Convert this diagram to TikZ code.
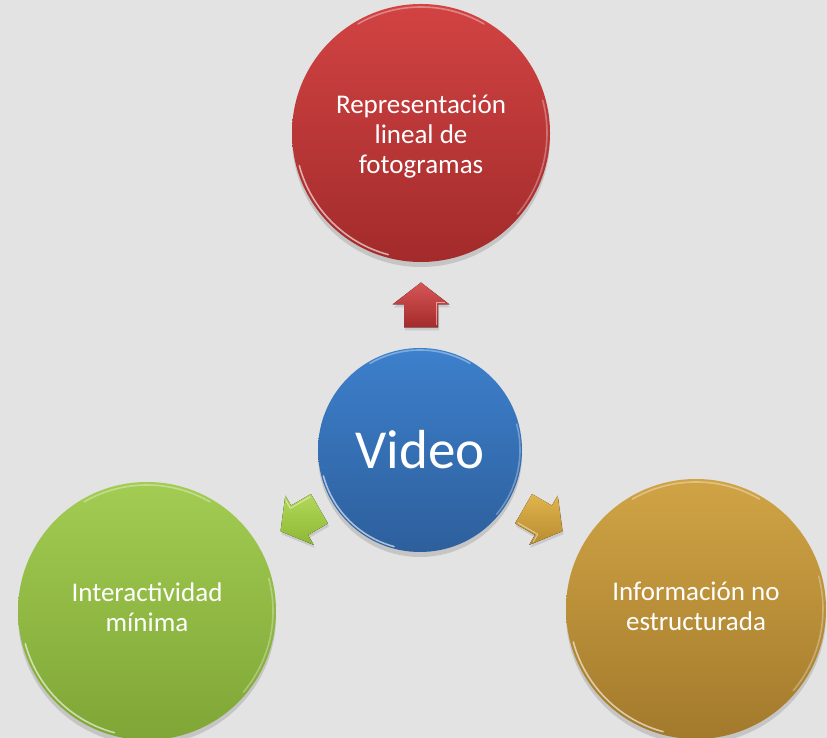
\documentclass[tikz,border=0pt]{standalone}
\usepackage{fontspec}
\setmainfont{Carlito}
\usetikzlibrary{shadows}
\definecolor{bg}{HTML}{E3E3E3}
\definecolor{redT}{HTML}{D24343}
\definecolor{redB}{HTML}{A32B2B}
\definecolor{bluT}{HTML}{3D80CC}
\definecolor{bluB}{HTML}{2D5F9C}
\definecolor{grnT}{HTML}{A2CC52}
\definecolor{grnB}{HTML}{7FA636}
\definecolor{gldT}{HTML}{D0A445}
\definecolor{gldB}{HTML}{A37A2C}
\definecolor{agrnT}{HTML}{B2D85A}
\definecolor{agrnB}{HTML}{8DB833}
\definecolor{agldT}{HTML}{E0B44E}
\definecolor{agldB}{HTML}{B88B2E}
\newcommand\blockarr[4]{%
  \coordinate (#1) at #2;
  \fill[shift={(#1)}, rotate=#3, #4,
    drop shadow={opacity=0.25, shadow xshift=1pt, shadow yshift=-3pt}]
    (-22.5,-17) -- (0.5,-17) -- (0.5,-28.5) -- (22.5,0) -- (0.5,28.5)
    -- (0.5,17) -- (-22.5,17) -- cycle;
  \draw[shift={(#1)}, rotate=#3, white, opacity=0.5, line width=1pt, line join=round]
    (-20.5,-15) -- (2.5,-15) -- (2.5,-24);
}
\begin{document}
\begin{tikzpicture}[x=1pt,y=1pt,
  bubble/.style={circle, draw=none, inner sep=0pt,
    drop shadow={opacity=0.3, shadow xshift=0pt, shadow yshift=-5pt}},
  bubbletext/.style={text=white, align=center, inner sep=0pt,
    font=\fontsize{27}{30}\selectfont},
  rim/.style={white, opacity=0.6, line width=1.6pt, line cap=round}]
\fill[bg] (0,0) rectangle (827,738);
\useasboundingbox (0,0) rectangle (827,738);

% circles
\node[bubble, minimum size=258pt, top color=redT, bottom color=redB] (rep) at (421,605) {};
\node[bubble, minimum size=258pt, top color=grnT, bottom color=grnB] (inter) at (147,127) {};
\node[bubble, minimum size=260pt, top color=gldT, bottom color=gldB] (info) at (696,129) {};
\node[bubble, minimum size=204pt, top color=bluT, bottom color=bluB] (video) at (420,288) {};

% texts
\node[bubbletext] (reptext) at ([yshift=-4pt]rep.center) {Representación\\lineal de\\fotogramas};
\node[bubbletext] (intertext) at ([yshift=4pt]inter.center) {Interactividad\\mínima};
\node[bubbletext] (infotext) at ([yshift=3pt]info.center) {Información no\\estructurada};
\node[bubbletext, font=\fontsize{55}{60}\selectfont] (videotext) at (video.center) {Video};

% rim highlights
\foreach \n/\r in {rep/126, inter/126, info/127, video/100}{
  \draw[rim] ([shift={(195:\r)}]\n.center) arc (195:255:\r);
  \draw[rim, opacity=0.35] ([shift={(60:\r)}]\n.center) arc (60:120:\r);
  \draw[rim, opacity=0.3] ([shift={(-40:\r)}]\n.center) arc (-40:15:\r);
}

% block arrows
\blockarr{aup}{(421,433)}{90}{top color=redT!90!white, bottom color=redB}
\blockarr{agrn}{(300,218)}{210}{top color=agrnT, bottom color=agrnB}
\blockarr{agld}{(543,218)}{330}{top color=agldT, bottom color=agldB}
\end{tikzpicture}
\end{document}
